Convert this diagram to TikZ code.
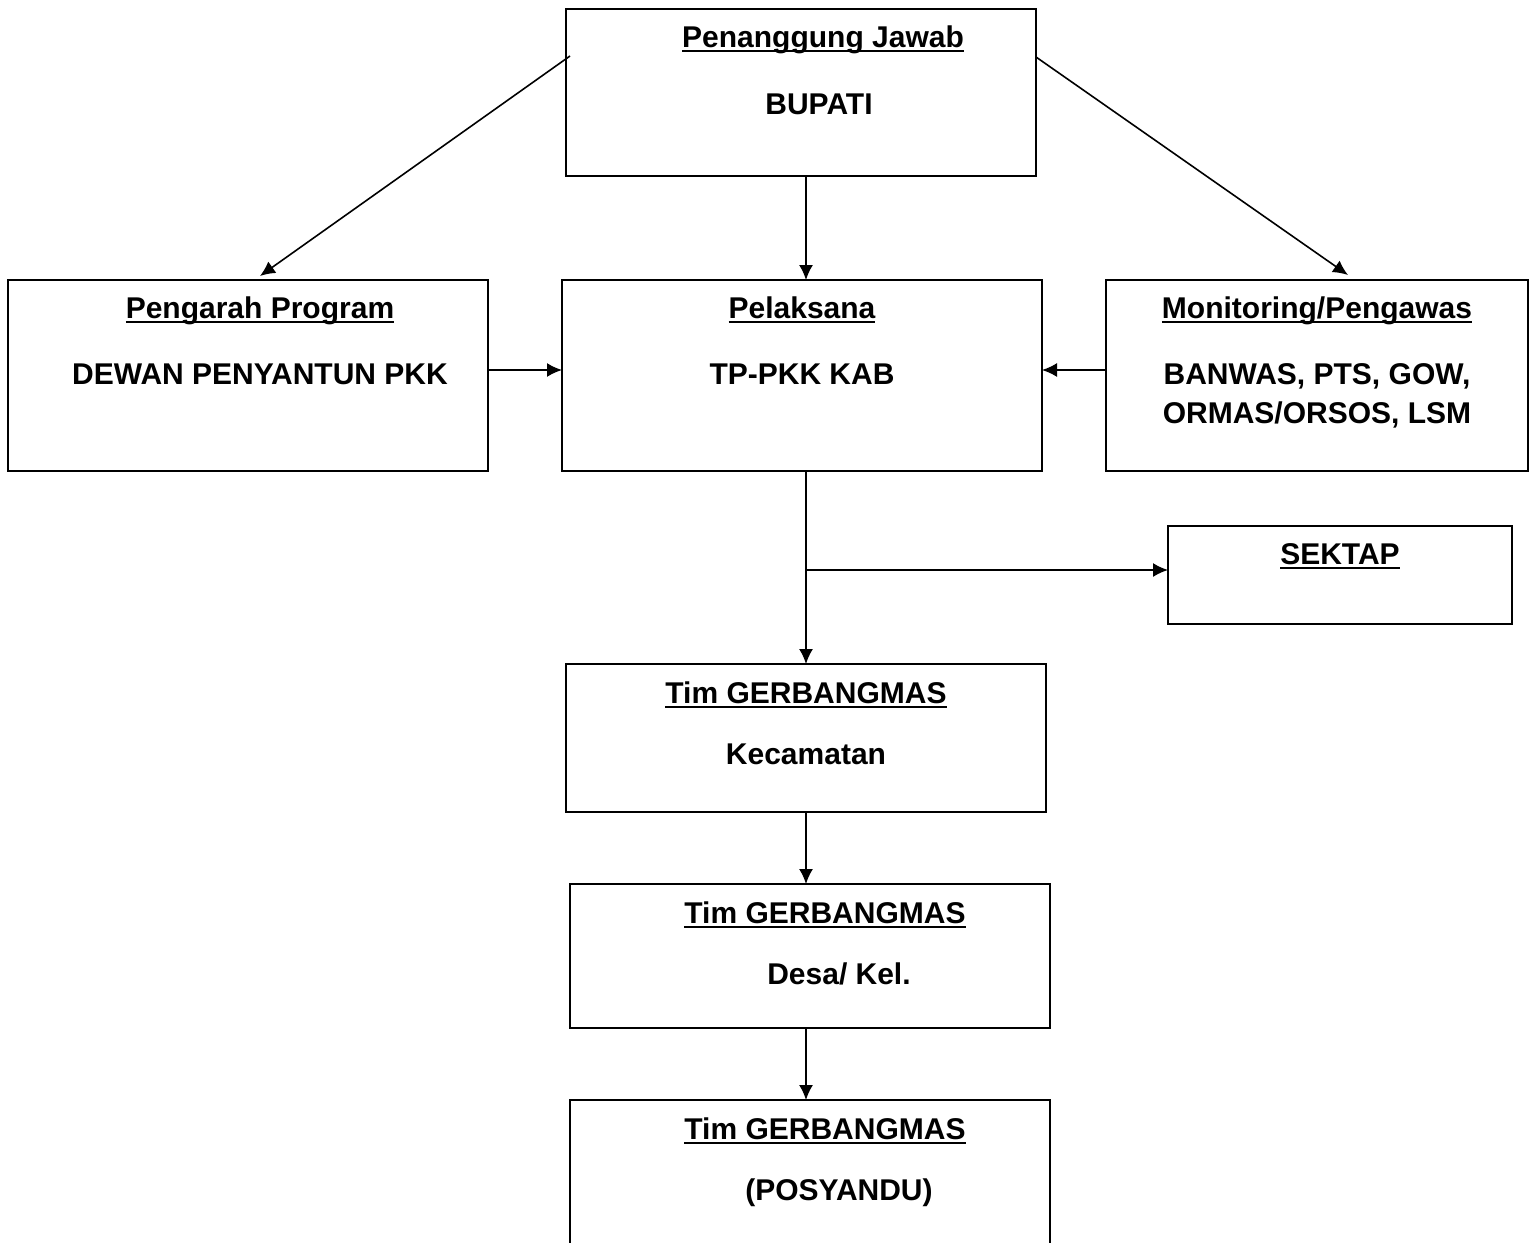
\documentclass[tikz,border=0pt]{standalone}
\usepackage{fontspec}
\setmainfont{Liberation Sans}
\usetikzlibrary{calc,arrows.meta}
\newcommand{\garisbawah}[1]{\setbox0\hbox{#1}\rlap{\rule[-2.7pt]{\wd0}{1.1pt}}\box0}
\tikzset{
  kotak/.style={draw,line width=0.9pt,inner sep=0pt,outer sep=0pt},
  teks/.style={anchor=base,inner sep=0pt,font=\fontsize{15}{18}\selectfont\bfseries},
  panah/.style={line width=0.8pt,-{Latex[length=7.5pt,width=7pt]}}
}
\begin{document}
\begin{tikzpicture}[x=0.5pt,y=-0.5pt]
              \useasboundingbox(0,0)rectangle(1533,1243);
              \clip(0,0)rectangle(1533,1243);
              \node[kotak,minimum width=235pt,minimum height=83.5pt](pj)at(801,92.5){};
              \node[kotak,minimum width=240pt,minimum height=95.5pt](pp)at(248,375.5){};
              \node[kotak,minimum width=240pt,minimum height=95.5pt](pl)at(802,375.5){};
              \node[kotak,minimum width=211pt,minimum height=95.5pt](mp)at(1317,375.5){};
              \node[kotak,minimum width=172pt,minimum height=49pt](sk)at(1340,575){};
              \node[kotak,minimum width=240pt,minimum height=74pt](kec)at(806,738){};
              \node[kotak,minimum width=240pt,minimum height=72pt](des)at(810,956){};
              \node[kotak,minimum width=240pt,minimum height=82pt](pos)at(810,1182){};
              \node[teks](pj1)at(823,47){\garisbawah{Penanggung Jawab}};
              \node[teks](pj2)at(819,114){BUPATI};
              \node[teks](pp1)at(260,318){\garisbawah{Pengarah Program}};
              \node[teks](pp2)at(260,384){DEWAN PENYANTUN PKK};
              \node[teks](pl1)at(802,318){\garisbawah{Pelaksana}};
              \node[teks](pl2)at(802,384){TP-PKK KAB};
              \node[teks](mp1)at(1317,318){\garisbawah{Monitoring/Pengawas}};
              \node[teks](mp2)at(1317,384){BANWAS, PTS, GOW,};
              \node[teks](mp3)at(1317,423){ORMAS/ORSOS, LSM};
              \node[teks](sk1)at(1340,564){\garisbawah{SEKTAP}};
              \node[teks](kec1)at(806,703){\garisbawah{Tim GERBANGMAS}};
              \node[teks](kec2)at(806,764){Kecamatan};
              \node[teks](des1)at(825,923){\garisbawah{Tim GERBANGMAS}};
              \node[teks](des2)at(839,984){Desa/ Kel.};
              \node[teks](pos1)at(825,1139){\garisbawah{Tim GERBANGMAS}};
              \node[teks](pos2)at(839,1200){(POSYANDU)};
              \coordinate(a)at(570,56);
              \coordinate(b)at(1036,57);
              \coordinate(a1)at(260,276);
              \coordinate(b1)at(1348,275);
              \coordinate(c)at(806,570);
              \draw[panah](a)--(a1);
              \draw[panah](b)--(b1);
              \draw[panah](pj.south-|kec.north)--(pl.north-|kec.north);
              \draw[panah](pp.east|-0,370)--(pl.west|-0,370);
              \draw[panah](mp.west|-0,370)--(pl.east|-0,370);
              \draw[panah](pl.south-|kec.north)--(kec.north);
              \draw[panah](c)--(sk.west|-c);
              \draw[panah](kec.south)--(des.north-|kec.south);
              \draw[panah](des.south-|kec.south)--(pos.north-|kec.south);
            \end{tikzpicture}
\end{document}
